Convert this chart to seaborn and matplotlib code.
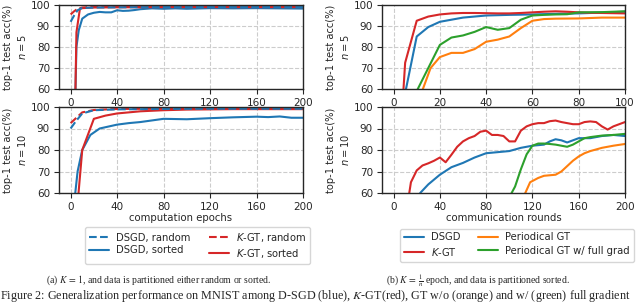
import numpy as np
import pandas as pd
import seaborn as sns
import matplotlib
matplotlib.use("Agg")
import matplotlib.pyplot as plt

sns.set_style("whitegrid", {"grid.linestyle": "--", "grid.color": "0.8",
                            "axes.edgecolor": "0.15", "xtick.bottom": True,
                            "ytick.left": True})
plt.rcParams['font.family'] = ['DejaVu Sans']

BLUE, RED, ORANGE, GREEN = "#1f77b4", "#d62728", "#ff7f0e", "#2ca02c"

# ---- (a) K = 1, computation epochs ----
# n = 5
a5_dsgd_rand_x = [0, 3, 6, 10, 20, 40, 80, 120, 160, 200]
a5_dsgd_rand_y = [92, 95, 97.5, 98.6, 98.8, 98.9, 99, 99, 99, 99]
a5_kgt_rand_x = [0, 3, 6, 10, 20, 40, 80, 120, 160, 200]
a5_kgt_rand_y = [95.5, 97, 98.2, 98.8, 99.1, 99.2, 99.3, 99.3, 99.3, 99.3]
a5_dsgd_sort_x = [4, 5, 7, 10, 15, 20, 25, 30, 35, 40, 45, 50, 55, 60, 70, 80, 90, 100, 120, 140, 160, 180, 200]
a5_dsgd_sort_y = [55, 80, 88, 93.5, 95.5, 96.3, 96.7, 96.5, 96.5, 97.5, 97.2, 97.3, 97.6, 98, 98.4, 98.2, 98.4, 98.2, 98.5, 98.4, 98.5, 98.4, 98.3]
a5_kgt_sort_x = [4, 5, 8, 10, 20, 40, 80, 120, 160, 200]
a5_kgt_sort_y = [55, 87, 98.2, 98.5, 98.8, 98.9, 99, 99, 99, 99]
# n = 10
a10_dsgd_rand_x = [0, 4, 10, 20, 40, 80, 120, 160, 200]
a10_dsgd_rand_y = [90, 93, 97, 98.5, 98.9, 99.1, 99.2, 99.2, 99.2]
a10_kgt_rand_x = [0, 4, 10, 20, 40, 80, 120, 160, 200]
a10_kgt_rand_y = [92.5, 94.5, 97.5, 98.6, 99.1, 99.2, 99.3, 99.3, 99.3]
a10_dsgd_sort_x = [3, 6, 10, 17, 25, 40, 50, 60, 80, 100, 120, 140, 160, 170, 180, 190, 200]
a10_dsgd_sort_y = [55, 70, 80, 87, 90, 91.8, 92.5, 93, 94.5, 94.3, 94.8, 95.2, 95.5, 95.3, 95.6, 95, 95]
a10_kgt_sort_x = [6, 10, 20, 30, 40, 60, 80, 100, 140, 200]
a10_kgt_sort_y = [55, 80, 94.5, 96, 97, 98, 98.5, 98.8, 99, 99]

# ---- (b) K = 1/n epoch, communication rounds ----
# n = 5
b5_x = [4, 5, 10, 15, 20, 25, 30, 35, 40, 45, 50, 55, 60, 65, 70, 75, 80, 85, 90, 95, 100]
b5_kgt = [55, 72.5, 92.5, 94.5, 95.5, 96, 96.2, 96.2, 96.1, 96, 96, 96.2, 96.5, 96.8, 97, 96.8, 96.5, 96.3, 96.2, 96.1, 96]
b5_dsgd_x = [5, 10, 15, 20, 25, 30, 35, 40, 50, 60, 70, 80, 90, 100]
b5_dsgd = [58, 85, 89.5, 92, 93, 94, 94.5, 95, 95.3, 95.5, 95.8, 96, 96.4, 96.8]
b5_gt_x = [12, 16, 20, 25, 30, 35, 40, 45, 50, 55, 60, 65, 70, 80, 90, 100]
b5_gt = [58, 70, 75.2, 77.2, 77.2, 79, 82.5, 83.5, 85, 89, 92.5, 93.3, 93.5, 93.6, 94, 94]
b5_gtfull_x = [10, 15, 20, 25, 30, 35, 40, 45, 50, 55, 60, 65, 70, 75, 80, 90, 100]
b5_gtfull = [59, 70, 81, 84.5, 85.5, 87.2, 89.5, 88.2, 89, 93, 95, 95.3, 95.5, 95.6, 96.5, 96.6, 97]
# n = 10
b10_kgt_x = [13, 15, 20, 25, 30, 35, 40, 45, 50, 55, 60, 65, 70, 75, 80, 85, 90, 95, 100, 105, 110, 115, 120,
             125, 130, 135, 140, 145, 150, 155, 160, 165, 170, 175, 180, 185, 190, 195, 200]
b10_kgt = [58, 65, 70.5, 72.8, 73.8, 75, 76.5, 74.3, 77.8, 81.5, 84, 85.5, 86.5, 88.5, 89, 87, 87, 86.5, 84, 84,
           89, 91, 92, 92.5, 92.5, 93.4, 93.7, 93, 92.5, 92, 92, 93, 93.3, 93, 91, 89.5, 91, 92, 93]
b10_dsgd_x = [23, 30, 40, 50, 60, 70, 80, 90, 100, 110, 120, 130, 135, 140, 145, 150, 155, 160, 170, 180, 190, 200]
b10_dsgd = [60, 64, 68.5, 72, 74, 76.5, 78.5, 79, 79.5, 81, 82, 82.5, 84, 85, 84.5, 83.5, 84.5, 85.5, 85.5, 86.5, 87, 86.5]
b10_gt_x = [113, 118, 125, 130, 140, 145, 150, 155, 160, 165, 170, 180, 190, 200]
b10_gt = [59, 65, 67, 68, 68.5, 70, 72.5, 75, 77, 78.5, 79.5, 81, 82, 82.8]
b10_gtfull_x = [101, 105, 110, 115, 120, 125, 130, 135, 140, 145, 150, 155, 160, 165, 170, 180, 190, 200]
b10_gtfull = [59, 63, 71, 78, 82, 83, 83, 82.8, 82.5, 82, 81.5, 82.5, 84, 85.5, 86, 86.7, 87, 87.5]

LW = 1.5
TFS = 7.5   # tick labels
LFS = 7.3   # axis labels
fig = plt.figure(figsize=(6.4, 3.02), dpi=100)
W, H = 640, 302


def add_ax(x0, x1, y0, y1):
    return fig.add_axes([x0 / W, 1 - y1 / H, (x1 - x0) / W, (y1 - y0) / H])


ax_a5 = add_ax(59, 303, 5, 89)
ax_a10 = add_ax(59, 303, 107, 193)
ax_b5 = add_ax(382, 625, 5, 89)
ax_b10 = add_ax(382, 625, 107, 193)


def line(ax, x, y, color, ls="-", label=None):
    sns.lineplot(x=x, y=y, ax=ax, color=color, linestyle=ls, linewidth=LW,
                 label=label, legend=False)


# left panels
for ax, d in [(ax_a5, (a5_dsgd_sort_x, a5_dsgd_sort_y, a5_kgt_sort_x, a5_kgt_sort_y,
                       a5_kgt_rand_x, a5_kgt_rand_y, a5_dsgd_rand_x, a5_dsgd_rand_y)),
              (ax_a10, (a10_dsgd_sort_x, a10_dsgd_sort_y, a10_kgt_sort_x, a10_kgt_sort_y,
                        a10_kgt_rand_x, a10_kgt_rand_y, a10_dsgd_rand_x, a10_dsgd_rand_y))]:
    line(ax, d[0], d[1], BLUE, "-", "DSGD, sorted")
    line(ax, d[2], d[3], RED, "-", "$K$-GT, sorted")
    line(ax, d[4], d[5], RED, "--", "$K$-GT, random")
    line(ax, d[6], d[7], BLUE, "--", "DSGD, random")
    ax.set_xlim(-10, 200)
    ax.set_xticks([0, 40, 80, 120, 160, 200])

# right panels
line(ax_b5, b5_dsgd_x, b5_dsgd, BLUE, label="DSGD")
line(ax_b5, b5_x, b5_kgt, RED, label="$K$-GT")
line(ax_b5, b5_gt_x, b5_gt, ORANGE, label="Periodical GT")
line(ax_b5, b5_gtfull_x, b5_gtfull, GREEN, label="Periodical GT w/ full grad")
ax_b5.set_xlim(-5, 100)
ax_b5.set_xticks([0, 20, 40, 60, 80, 100])

line(ax_b10, b10_dsgd_x, b10_dsgd, BLUE, label="DSGD")
line(ax_b10, b10_kgt_x, b10_kgt, RED, label="$K$-GT")
line(ax_b10, b10_gt_x, b10_gt, ORANGE, label="Periodical GT")
line(ax_b10, b10_gtfull_x, b10_gtfull, GREEN, label="Periodical GT w/ full grad")
ax_b10.set_xlim(-10, 200)
ax_b10.set_xticks([0, 40, 80, 120, 160, 200])

for ax, n in [(ax_a5, 5), (ax_a10, 10), (ax_b5, 5), (ax_b10, 10)]:
    ax.set_ylim(60, 100)
    ax.set_yticks([60, 70, 80, 90, 100])
    ax.set_ylabel("top-1 test acc(%%)\n$n = %d$" % n, fontsize=7.1, labelpad=2,
                  linespacing=1.3)
    ax.set_xlabel("")
    ax.tick_params(labelsize=TFS, length=3.5, width=0.8, pad=3, color="0.15")
    for s in ax.spines.values():
        s.set_linewidth(1.0)

ax_a10.set_xlabel("computation epochs", fontsize=LFS, labelpad=1)
ax_b10.set_xlabel("communication rounds", fontsize=LFS, labelpad=1)

# legends
leg_kw = dict(ncol=2, fontsize=7.2, loc="center", frameon=True, handlelength=2.0,
              columnspacing=1.8, handletextpad=0.7, borderpad=0.4, labelspacing=0.3,
              borderaxespad=0, fancybox=True)
h = {l.get_label(): l for l in ax_a10.get_lines()}
fig.legend([h["DSGD, random"], h["DSGD, sorted"], h["$K$-GT, random"], h["$K$-GT, sorted"]],
           ["DSGD, random", "DSGD, sorted", "$K$-GT, random", "$K$-GT, sorted"],
           bbox_to_anchor=(197.5 / W, 1 - 245 / H), **leg_kw)
h = {l.get_label(): l for l in ax_b10.get_lines()}
fig.legend([h["DSGD"], h["$K$-GT"], h["Periodical GT"], h["Periodical GT w/ full grad"]],
           ["DSGD", "$K$-GT", "Periodical GT", "Periodical GT w/ full grad"],
           bbox_to_anchor=(517 / W, 1 - 245 / H), **leg_kw)

# captions
cap = dict(family="Liberation Serif", math_fontfamily="stix", ha="center", va="center")
fig.text(159 / W, 1 - 280.5 / H, r"(a) $K\,=\,1$, and data is partitioned either random or sorted.",
         fontsize=7, **cap)
fig.text(478 / W, 1 - 280 / H, r"(b) $K\,=\,\frac{1}{n}$ epoch, and data is partitioned sorted.",
         fontsize=7, **cap)
fig.text(0 / W, 1 - 299.5 / H,
         r"Figure 2: Generalization performance on MNIST among D-SGD (blue), $K$-GT(red), GT w/o (orange) and w/ (green) full gradient",
         fontsize=8.7, family="Liberation Serif", math_fontfamily="stix", ha="left", va="baseline")

fig.savefig("out.png", dpi=100)
